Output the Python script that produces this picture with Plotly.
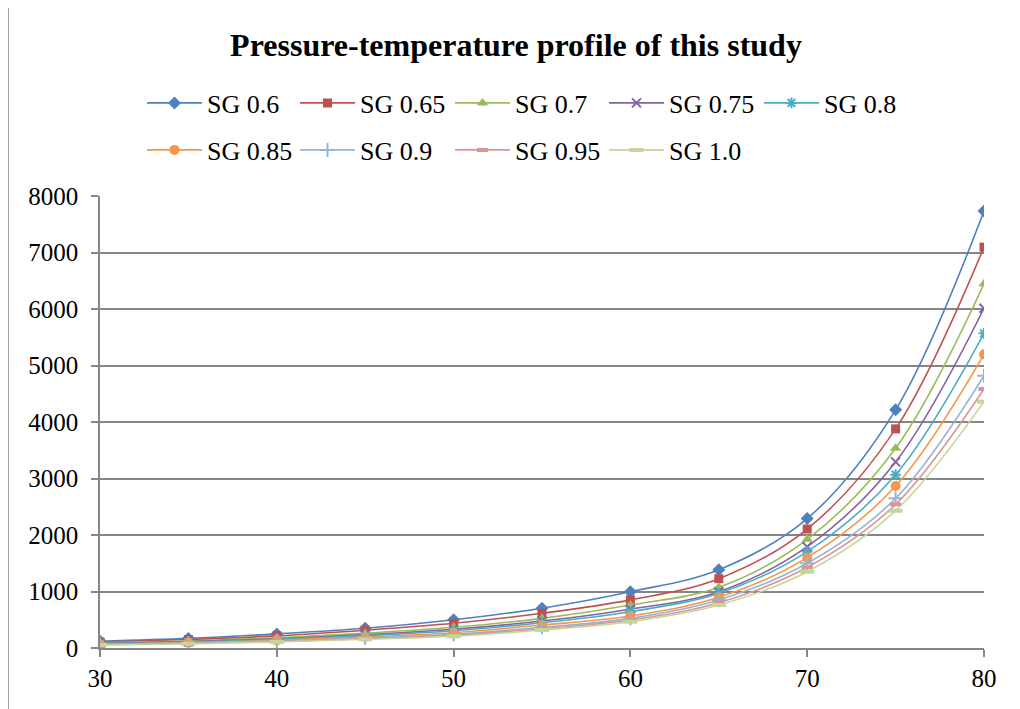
import plotly.graph_objects as go

temps = [30, 35, 40, 45, 50, 55, 60, 65, 70, 75, 80]

series_names = ["SG 0.6", "SG 0.65", "SG 0.7", "SG 0.75", "SG 0.8",
                "SG 0.85", "SG 0.9", "SG 0.95", "SG 1.0"]

sg_060 = [120, 170, 250, 350, 500, 705, 995, 1385, 2290, 4215, 7735]
sg_065 = [106, 150, 215, 315, 437, 614, 852, 1227, 2106, 3878, 7095]
sg_070 = [90, 125, 180, 262, 366, 525, 762, 1074, 1923, 3534, 6445]
sg_075 = [80, 112, 160, 236, 331, 478, 686, 997, 1793, 3294, 6012]
sg_080 = [74, 104, 150, 218, 306, 448, 643, 968, 1705, 3068, 5570]
sg_085 = [67, 94, 135, 195, 271, 407, 566, 897, 1599, 2867, 5197]
sg_090 = [62, 86, 122, 177, 242, 366, 525, 850, 1499, 2649, 4820]
sg_095 = [58, 81, 115, 165, 225, 342, 496, 802, 1428, 2543, 4584]
sg_100 = [54, 76, 107, 154, 207, 319, 466, 761, 1351, 2430, 4360]

all_values = [sg_060, sg_065, sg_070, sg_075, sg_080, sg_085, sg_090, sg_095, sg_100]

colors = ["#4F81BD", "#C0504D", "#9BBB59", "#8064A2", "#4BACC6",
          "#F79646", "#95B3D7", "#D99694", "#C3D69B"]
symbols = ["diamond", "square", "triangle-up", "x-thin-open", "asterisk-open",
           "circle", "cross-thin-open", "line-ew-open", "line-ew-open"]
sizes = [10, 9, 10, 9, 9, 10, 10, 8, 10]

FONT = "Liberation Serif"

# legend grid (screen px of line start, row centre)
col_px = [147, 300, 455, 609, 764]
row_px = [103, 150]

fig = go.Figure()
legend_layouts = {}
for i, (name, vals) in enumerate(zip(series_names, all_values)):
    sym = symbols[i]
    marker = dict(symbol=sym, size=sizes[i], color=colors[i])
    if sym.endswith("-open"):
        marker["line"] = dict(color=colors[i], width=2 if i < 7 else 4)
    else:
        marker["line"] = dict(width=0)
    lname = "legend" if i == 0 else f"legend{i + 1}"
    fig.add_trace(go.Scatter(
        x=temps, y=vals, name=name, mode="lines+markers",
        line=dict(color=colors[i], width=1.6, shape="spline", smoothing=1),
        marker=marker,
        legend=lname,
    ))
    r, c = divmod(i, 5)
    legend_layouts[lname] = dict(
        x=(col_px[c] - 5 - 100) / 884, y=(648 - row_px[r]) / 452,
        xanchor="left", yanchor="middle", orientation="h",
        font=dict(family=FONT, size=26, color="black"),
        itemwidth=55, bgcolor="rgba(0,0,0,0)",
    )

axis_common = dict(
    showline=True, linecolor="#868686", linewidth=1.5,
    ticks="outside", ticklen=7, tickcolor="#868686", tickwidth=1.5,
    tickfont=dict(family=FONT, size=25, color="black"),
    zeroline=False,
)

fig.update_xaxes(range=[30, 80], dtick=10, tick0=30, showgrid=False, **axis_common)
fig.update_yaxes(range=[0, 8000], dtick=1000, showgrid=True,
                 gridcolor="#868686", gridwidth=1.5, ticklabelstandoff=8,
                 **axis_common)

fig.update_layout(
    width=1020, height=709,
    margin=dict(l=92, r=44, t=188, b=69),
    font=dict(family=FONT, color="black"),
    paper_bgcolor="white", plot_bgcolor="white",
    title=dict(text="<b>Pressure-temperature profile of this study</b>",
               x=(516 - 8) / 1020, xanchor="center", y=1 - (45 - 8) / 709, yanchor="middle",
               font=dict(family=FONT, size=32, color="black")),
    showlegend=True,
    shapes=[
        dict(type="line", xref="paper", yref="paper",
             x0=(8 - 100) / 884, x1=(8 - 100) / 884,
             y0=(648 - 720) / 452, y1=(648 - 4) / 452,
             line=dict(color="#868686", width=1.5)),
        dict(type="line", xref="paper", yref="paper",
             x0=(8 - 100) / 884, x1=(1030 - 100) / 884,
             y0=(648 - 4) / 452, y1=(648 - 4) / 452,
             line=dict(color="#868686", width=1.5)),
    ],
    **legend_layouts,
)

fig.write_html("out.html")
